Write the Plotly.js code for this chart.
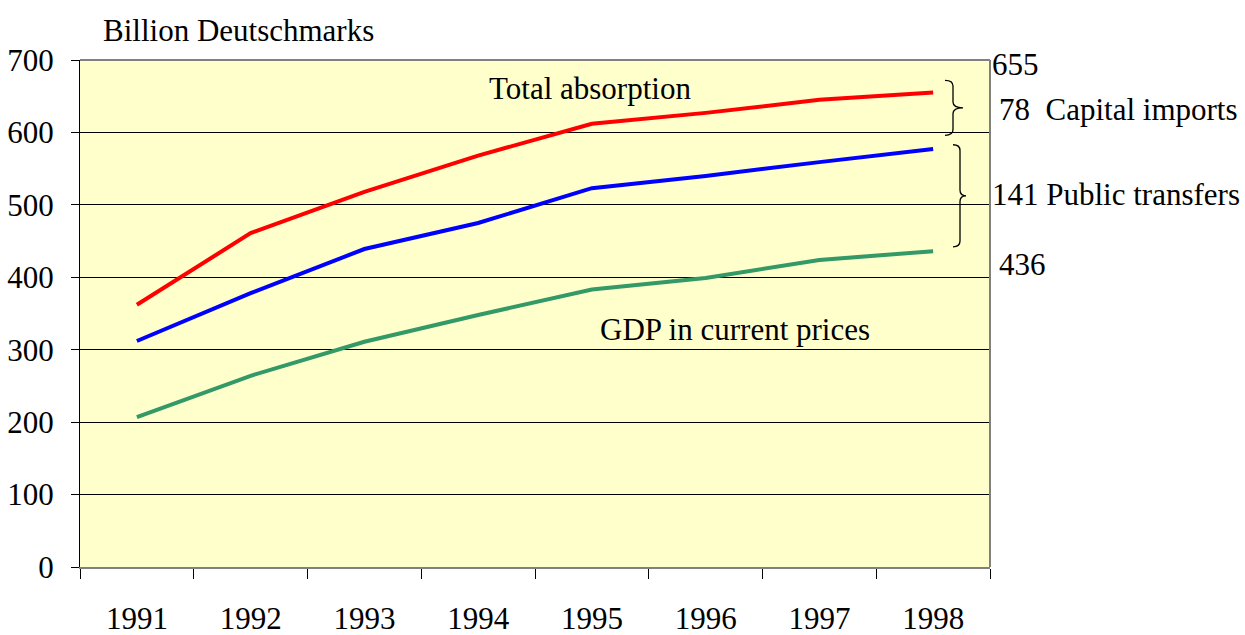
<!DOCTYPE html>
<html>
<head>
<meta charset="utf-8">
<script src="https://cdn.plot.ly/plotly-3.0.1.min.js"></script>
<style>html,body{margin:0;padding:0;background:#fff;}#chart{width:1245px;height:635px;}</style>
</head>
<body>
<div id="chart"></div>
<script>
const years = ['1991','1992','1993','1994','1995','1996','1997','1998'];
const totalAbsorption = [362, 461, 518, 568, 612, 627, 645, 655];
const gdpPlusTransfers = [312, 378, 439, 475, 523, 540, 559, 577];
const gdpCurrent = [207, 264, 311, 348, 383, 399, 424, 436];
const yTicks = [0, 100, 200, 300, 400, 500, 600, 700];

const FONT = 'Liberation Serif, Times New Roman, serif';
const FS = 31;

const traces = [
  {x: years, y: totalAbsorption, type: 'scatter', mode: 'lines', line: {color: '#FF0000', width: 4}, name: 'Total absorption'},
  {x: years, y: gdpPlusTransfers, type: 'scatter', mode: 'lines', line: {color: '#0000FF', width: 4}, name: 'GDP + public transfers'},
  {x: years, y: gdpCurrent, type: 'scatter', mode: 'lines', line: {color: '#339966', width: 4}, name: 'GDP in current prices'}
];

function px2paper(px) { return (px - 80) / 910; }
function brace(xEnd, xMid, xTip, top, bottom, r) {
  const mid = (top + bottom) / 2;
  const a = px2paper(xEnd), v = px2paper(xMid), t = px2paper(xTip);
  return `M ${a} ${top} Q ${v} ${top} ${v} ${top - r} L ${v} ${mid + r} Q ${v} ${mid} ${t} ${mid} Q ${v} ${mid} ${v} ${mid - r} L ${v} ${bottom + r} Q ${v} ${bottom} ${a} ${bottom}`;
}

const layout = {
  width: 1245, height: 635,
  margin: {l: 80, r: 255, t: 60, b: 68},
  paper_bgcolor: '#FFFFFF',
  plot_bgcolor: '#FFFFCC',
  showlegend: false,
  font: {family: FONT, size: FS, color: '#000'},
  xaxis: {
    type: 'category',
    tickson: 'boundaries',
    ticks: 'outside', ticklen: 10, tickcolor: '#000', tickwidth: 1,
    showgrid: false, zeroline: false,
    showline: true, linecolor: '#808080', linewidth: 2,
    ticklabelstandoff: 23,
    tickfont: {family: FONT, size: FS, color: '#000'},
    range: [-0.5, 7.5]
  },
  yaxis: {
    range: [0, 700],
    tickvals: yTicks,
    ticks: 'outside', ticklen: 8, tickcolor: '#000', tickwidth: 1,
    showgrid: true, gridcolor: '#000', gridwidth: 1,
    zeroline: false,
    showline: true, linecolor: '#000', linewidth: 1,
    ticklabelstandoff: 11,
    tickfont: {family: FONT, size: FS, color: '#000'}
  },
  shapes: [
    {type: 'line', xref: 'paper', yref: 'paper', x0: 0, x1: 1, y0: 1, y1: 1, line: {color: '#808080', width: 2}},
    {type: 'line', xref: 'paper', yref: 'paper', x0: 1, x1: 1, y0: 0, y1: 1, line: {color: '#808080', width: 2}},
    {type: 'path', xref: 'paper', yref: 'y', path: brace(945, 953, 963, 672, 596, 8), line: {color: '#000', width: 1.3}},
    {type: 'path', xref: 'paper', yref: 'y', path: brace(953, 960, 966, 583, 442, 8), line: {color: '#000', width: 1.3}}
  ],
  annotations: [
    {text: 'Billion Deutschmarks', xref: 'paper', yref: 'paper', x: px2paper(101), y: 1.0, xanchor: 'left', yanchor: 'bottom', yshift: 10, showarrow: false, font: {family: FONT, size: FS}},
    {text: 'Total absorption', xref: 'paper', yref: 'y', x: px2paper(487), y: 660, xanchor: 'left', yanchor: 'middle', showarrow: false, font: {family: FONT, size: FS}},
    {text: 'GDP in current prices', xref: 'paper', yref: 'y', x: px2paper(598), y: 328, xanchor: 'left', yanchor: 'middle', showarrow: false, font: {family: FONT, size: FS}},
    {text: '655', xref: 'paper', yref: 'y', x: px2paper(990), y: 694, xanchor: 'left', yanchor: 'middle', showarrow: false, font: {family: FONT, size: FS}},
    {text: '78&nbsp;&nbsp;Capital imports', xref: 'paper', yref: 'y', x: px2paper(997), y: 631, xanchor: 'left', yanchor: 'middle', showarrow: false, font: {family: FONT, size: FS}},
    {text: '141 Public transfers', xref: 'paper', yref: 'y', x: px2paper(990), y: 514, xanchor: 'left', yanchor: 'middle', showarrow: false, font: {family: FONT, size: FS}},
    {text: '436', xref: 'paper', yref: 'y', x: px2paper(997), y: 417, xanchor: 'left', yanchor: 'middle', showarrow: false, font: {family: FONT, size: FS}}
  ]
};

Plotly.newPlot('chart', traces, layout, {displayModeBar: false, staticPlot: true});
</script>
</body>
</html>
